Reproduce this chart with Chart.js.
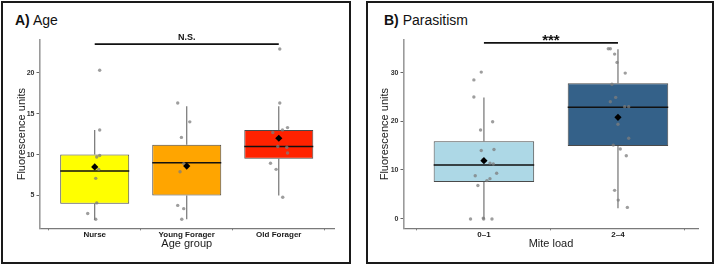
<!DOCTYPE html>
<html>
<head>
<meta charset="utf-8">
<script src="https://cdn.jsdelivr.net/npm/chart.js@4.4.1/dist/chart.umd.min.js"></script>
<style>
  html, body { margin: 0; padding: 0; background: #fff; }
  body { width: 717px; height: 266px; position: relative; overflow: hidden; font-family: "Liberation Sans", Arial, sans-serif; }
  .panel { position: absolute; top: 1px; height: 263px; border: 2px solid #1a1a1a; box-sizing: border-box; }
  .title { position: absolute; top: 13px; font-size: 14px; line-height: 14px; color: #111; white-space: nowrap; }
  canvas { position: absolute; top: 0; }
</style>
</head>
<body>
<div class="panel" style="left:1px;width:350px"></div>
<div class="panel" style="left:366px;width:348px"></div>
<div class="title" style="left:15px"><b>A)</b> Age</div>
<div class="title" style="left:384px"><b>B)</b> Parasitism</div>
<canvas id="chartA" width="358" height="266" style="left:0;width:358px;height:266px"></canvas>
<canvas id="chartB" width="359" height="266" style="left:358px;width:359px;height:266px"></canvas>
<script>
// ---- Panel A: age groups ----
const ageGroups = ['Nurse', 'Young Forager', 'Old Forager'];
const ageColors = ['#ffff00', '#ffa500', '#ff2200'];
const ageQ1 = [4.0, 5.0, 9.5];
const ageMedian = [8.0, 9.0, 11.0];
const ageQ3 = [10.0, 11.2, 13.0];
const ageLow = [2.0, 2.1, 5.0];
const ageHigh = [13.0, 15.9, 15.9];
const ageMean = [8.5, 8.6, 12.0];
// jittered observations: values and horizontal jitter (in category units)
const agePoints = [
  [20.3, 13.0, 9.9, 9.7, 8.2, 7.1, 4.1, 2.8, 2.1],
  [16.3, 14.0, 12.1, 8.9, 7.9, 3.8, 3.4, 2.1],
  [22.9, 16.3, 13.3, 13.0, 12.7, 11.0, 10.9, 10.2, 8.95, 8.2, 4.8]
];
const ageJitter = [
  [0.054, 0.054, 0.054, 0.022, 0.043, 0.011, 0.022, -0.076, 0.011],
  [-0.098, 0.033, -0.058, -0.033, -0.073, -0.098, -0.033, -0.054],
  [0.011, 0.011, 0.095, 0.04, -0.065, -0.011, 0.087, 0.095, -0.09, -0.029, 0.043]
];
const ageTicks = [5, 10, 15, 20];
const ageSig = { from: 1, to: 3, y: 23.5, text: 'N.S.' };

// ---- Panel B: mite load ----
const miteGroups = ['0\u20131', '2\u20134'];
const miteColors = ['#add8e6', '#346189'];
const miteQ1 = [7.5, 14.9];
const miteMedian = [11.0, 22.9];
const miteQ3 = [15.9, 27.8];
const miteLow = [-0.1, 2.1];
const miteHigh = [24.9, 34.8];
const miteMean = [11.9, 20.8];
const mitePoints = [
  [30.1, 28.5, 25.0, 19.9, 18.2, 14.2, 14.0, 12.1, 11.4, 11.2, 9.3, 8.8, 8.2, 7.8, 6.8, -0.1, 0.1, -0.1, -0.1],
  [34.9, 34.9, 33.8, 32.1, 29.9, 27.6, 24.9, 24.0, 23.0, 23.0, 19.4, 16.5, 15.1, 14.3, 12.9, 5.8, 3.8, 2.3]
];
const miteJitter = [
  [-0.02, -0.075, -0.075, 0.065, -0.025, 0.075, -0.02, -0.007, 0.045, 0.07, 0.095, -0.065, 0.045, 0.022, -0.045, -0.1, -0.005, -0.002, 0.06],
  [-0.072, -0.057, -0.025, -0.007, 0.054, -0.045, -0.017, -0.057, 0.05, 0.08, 0, 0.08, -0.035, 0.017, 0.062, -0.025, 0.002, 0.07]
];
const miteTicks = [0, 10, 20, 30];
const miteSig = { from: 1, to: 2, y: 36.1, text: '***' };

const BOX_FRAC = 0.75;
Chart.defaults.font.family = '"Liberation Sans", Arial, sans-serif';

// draws the significance label above the bracket, positioned with the chart scales
const sigLabelPlugin = {
  id: 'sigLabel',
  afterDraw(chart, args, opts) {
    const { ctx, scales } = chart;
    const x = scales.x.getPixelForValue((opts.from + opts.to) / 2);
    const y = scales.y.getPixelForValue(opts.y);
    ctx.save();
    ctx.fillStyle = '#111';
    ctx.font = 'bold ' + opts.size + 'px "Liberation Sans", Arial, sans-serif';
    ctx.textAlign = 'center';
    ctx.textBaseline = 'alphabetic';
    ctx.fillText(opts.text, x, y + opts.dy);
    ctx.restore();
  }
};

function segments(pairs) {
  // pairs of [x0, y0, x1, y1] -> line data with gaps between them
  const out = [];
  pairs.forEach(p => {
    out.push({ x: p[0], y: p[1] }, { x: p[2], y: p[3] }, { x: p[2], y: null });
  });
  return out;
}

function buildBoxChart(canvasId, cfg) {
  const n = cfg.groups.length;
  const idx = cfg.groups.map((g, i) => i + 1);

  const boxes = idx.map((x, i) => ({ x: x, y: [cfg.q1[i], cfg.q3[i]] }));
  const whiskers = segments(idx.flatMap((x, i) => [
    [x, cfg.low[i], x, cfg.q1[i]],
    [x, cfg.q3[i], x, cfg.high[i]]
  ]));
  const medians = segments(idx.map((x, i) => [x - BOX_FRAC / 2, cfg.median[i], x + BOX_FRAC / 2, cfg.median[i]]));
  const points = [];
  cfg.points.forEach((vals, i) => {
    vals.forEach((v, j) => points.push({ x: idx[i] + cfg.jitter[i][j], y: v }));
  });
  const means = idx.map((x, i) => ({ x: x, y: cfg.mean[i] }));
  const sigLine = [{ x: cfg.sig.from, y: cfg.sig.y }, { x: cfg.sig.to, y: cfg.sig.y }];

  return new Chart(document.getElementById(canvasId), {
    type: 'bar',
    data: {
      datasets: [
        { type: 'scatter', data: means, pointStyle: 'rectRot', pointRadius: 3.6, backgroundColor: '#000', borderColor: '#000', borderWidth: 0 },
        { type: 'scatter', data: points, pointRadius: 1.7, backgroundColor: 'rgba(125,125,125,0.75)', borderWidth: 0 },
        { type: 'line', data: sigLine, borderColor: '#111', borderWidth: 1.6, pointRadius: 0, clip: false },
        { type: 'line', data: medians, borderColor: '#111', borderWidth: 1.5, pointRadius: 0, spanGaps: false },
        { type: 'bar', data: boxes, backgroundColor: cfg.colors, borderColor: '#4a4a4a', borderWidth: 1,
          borderSkipped: false, categoryPercentage: 1, barPercentage: BOX_FRAC },
        { type: 'line', data: whiskers, borderColor: '#666', borderWidth: 1.1, pointRadius: 0, spanGaps: false }
      ]
    },
    options: {
      responsive: false,
      animation: false,
      layout: { padding: cfg.padding },
      plugins: {
        legend: { display: false },
        tooltip: { enabled: false },
        sigLabel: { from: cfg.sig.from, to: cfg.sig.to, y: cfg.sig.y, text: cfg.sig.text, size: cfg.sigSize, dy: cfg.sigDy }
      },
      scales: {
        x: {
          type: 'linear',
          offset: false,
          min: 0.4,
          max: n + 0.6,
          afterBuildTicks: s => { s.ticks = idx.map(v => ({ value: v })); },
          afterFit: s => { s.height = cfg.xHeight; },
          ticks: {
            callback: v => cfg.groups[v - 1],
            font: { size: 8, weight: 'bold' },
            color: '#1a1a1a',
            padding: 0,
            maxRotation: 0,
            autoSkip: false
          },
          grid: { display: true, drawOnChartArea: false, drawTicks: true, tickLength: 2, color: '#666' },
          border: { display: true, color: '#7a7a7a', width: 1.2 },
          title: { display: true, text: cfg.xTitle, font: { size: 11 }, color: '#1a1a1a', padding: { top: 0, bottom: 4 } }
        },
        y: {
          type: 'linear',
          min: cfg.yMin,
          max: cfg.yMax,
          afterBuildTicks: s => { s.ticks = cfg.yTicks.map(v => ({ value: v })); },
          afterFit: s => { s.width = cfg.yWidth; },
          ticks: { font: { size: 7, weight: 'bold' }, color: '#333', padding: 2 },
          grid: { display: true, drawOnChartArea: false, drawTicks: true, tickLength: 3, color: '#666' },
          border: { display: true, color: '#9a9a9a', width: 1.6 },
          title: { display: true, text: 'Fluorescence units', font: { size: 11 }, color: '#1a1a1a', padding: { top: 4, bottom: 0 } }
        }
      }
    },
    plugins: [sigLabelPlugin]
  });
}

buildBoxChart('chartA', {
  groups: ageGroups, colors: ageColors,
  q1: ageQ1, median: ageMedian, q3: ageQ3, low: ageLow, high: ageHigh, mean: ageMean,
  points: agePoints, jitter: ageJitter,
  yMin: 1, yMax: 24, yTicks: ageTicks,
  sig: ageSig, sigSize: 9, sigDy: -4,
  xTitle: 'Age group',
  padding: { left: 11, top: 40, right: 24, bottom: 11 },
  yWidth: 28.5, xHeight: 26.7
});

buildBoxChart('chartB', {
  groups: miteGroups, colors: miteColors,
  q1: miteQ1, median: miteMedian, q3: miteQ3, low: miteLow, high: miteHigh, mean: miteMean,
  points: mitePoints, jitter: miteJitter,
  yMin: -2, yMax: 36.7, yTicks: miteTicks,
  sig: miteSig, sigSize: 15, sigDy: 2.5,
  xTitle: 'Mite load',
  padding: { left: 16.4, top: 40, right: 18.6, bottom: 11 },
  yWidth: 29.1, xHeight: 26.7
});
</script>
</body>
</html>
